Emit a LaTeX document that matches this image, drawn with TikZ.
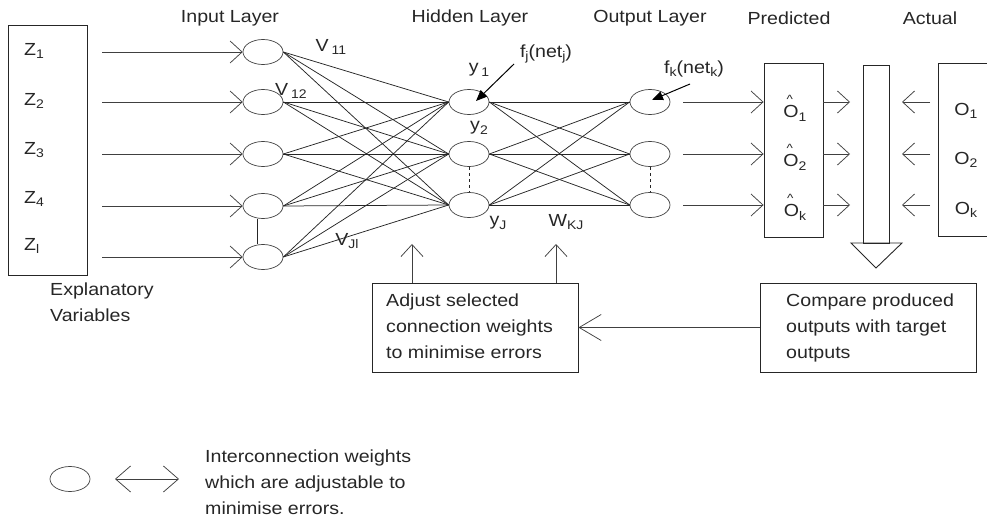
\documentclass[tikz,border=0pt]{standalone}
\usepackage{fontspec}
\setmainfont{Liberation Sans}[FakeStretch=1.12]
\usetikzlibrary{arrows.meta,shapes.geometric}
\newcommand{\sbs}[1]{\raisebox{-0.35ex}{\fontsize{12.5}{12}\selectfont #1}}
\newcommand{\ohat}[1]{\makebox[0pt][l]{\raisebox{0.85em}{\hspace{0.18em}\fontsize{12}{12}\selectfont\textasciicircum}}O\sbs{#1}}
\begin{document}
\begin{tikzpicture}[x=1pt,y=-1pt,
  every node/.style={font=\fontsize{17.5}{26}\selectfont, text=black!85},
  neuron/.style={draw=black!75, ellipse, minimum width=40pt, minimum height=25pt, inner sep=0pt, line width=0.7pt},
  conn/.style={draw=black!85, line width=0.75pt},
  arr/.style={draw=black!75, line width=0.75pt, -{Straight Barb[length=12pt,width=22pt]}},
  bigarr/.style={draw=black!75, line width=0.75pt, -{Straight Barb[length=22pt,width=26pt]}},
  fill arrow/.style={draw=black, line width=1pt, -{Triangle[length=11pt,width=9pt]}},
  box/.style={draw=black!85, line width=0.9pt},
  lbl/.style={inner sep=0pt}]
\useasboundingbox (0,0) rectangle (987,521);

% titles
\node[lbl] (tin) at (230,18) {Input Layer};
\node[lbl] (thid) at (470,18) {Hidden Layer};
\node[lbl] (tout) at (650,18) {Output Layer};
\node[lbl] (tpred) at (789,18) {Predicted};
\node[lbl] (tact) at (930,18) {Actual};

% explanatory variables box
\draw[box] (8,25) rectangle (87,275);
\node[lbl, anchor=west] (z1) at (24,51) {Z\sbs{1}};
\node[lbl, anchor=west] (z2) at (24,101) {Z\sbs{2}};
\node[lbl, anchor=west] (z3) at (24,150) {Z\sbs{3}};
\node[lbl, anchor=west] (z4) at (24,199) {Z\sbs{4}};
\node[lbl, anchor=west] (z5) at (24,246) {Z\sbs{l}};
\node[lbl, anchor=north west, align=left] (expl) at (50,283) {Explanatory\\Variables};

% input neurons
\foreach \i/\y in {1/52,2/102,3/154,4/206,5/257}{
  \node[neuron] (in\i) at (263,\y) {};
  \coordinate (s\i) at (102,\y);
  \draw[arr] (s\i) -- (in\i.west);
}
\draw[conn] ([xshift=-6pt]in4.south) -- ([xshift=-6pt]in5.north);

% hidden and output neurons
\foreach \j/\y in {1/102,2/154,3/205}{
  \node[neuron] (h\j) at (469,\y) {};
  \node[neuron] (o\j) at (650,\y) {};
}
\draw[conn, dashed] (h2.south) -- (h3.north);
\draw[conn, dashed] (o2.south) -- (o3.north);

% connections
\foreach \i in {1,...,5}{
  \foreach \j in {1,2,3}{
    \draw[conn] (in\i.east) -- (h\j.west);
  }
}
\foreach \j in {1,2,3}{
  \foreach \k in {1,2,3}{
    \draw[conn] (h\j.east) -- (o\k.west);
  }
}

% weight labels
\node[lbl] (v11) at (331,47) {V\,\sbs{11}};
\node[lbl] (v12) at (291,91) {V\,\sbs{12}};
\node[lbl] (vjl) at (347,241) {V\sbs{Jl}};
\node[lbl] (y1) at (479,70) {y\,\sbs{1}};
\node[lbl] (y2) at (479,128) {y\sbs{2}};
\node[lbl] (yj) at (498,223) {y\sbs{J}};
\node[lbl] (wkj) at (566,222) {W\sbs{KJ}};

% activation function labels
\node[lbl] (fj) at (546,54) {f\sbs{j}(net\sbs{j})};
\node[lbl] (fk) at (694,69) {f\sbs{k}(net\sbs{k})};
\coordinate (fjs) at (514,64);
\coordinate (fje) at (476,101);
\coordinate (fks) at (690,84);
\coordinate (fke) at (652,100);
\draw[fill arrow] (fjs) -- (fje);
\draw[fill arrow] (fks) -- (fke);

% predicted box
\node[box, minimum width=59pt, minimum height=174pt, inner sep=0pt] (pred) at (793.5,150) {};
\node[lbl] (p1) at (795,108) {\ohat{1}};
\node[lbl] (p2) at (795,157) {\ohat{2}};
\node[lbl] (p3) at (795,207) {\ohat{k}};
\foreach \k/\y in {1/102,2/154,3/205}{
  \coordinate (pe\k) at (pred.west |- 0,\y);
  \draw[arr] ([xshift=13pt]o\k.east) -- (pe\k);
}

% comparison bar
\node[box, minimum width=26pt, minimum height=178pt, inner sep=0pt] (bar) at (876,154) {};
\draw[box] (851,243) -- (902,243) -- (876,268) -- cycle;
\foreach \k/\y in {1/102,2/154,3/205}{
  \coordinate (bl\k) at (850,\y);
  \coordinate (br\k) at (902,\y);
  \coordinate (pr\k) at (823,\y);
  \coordinate (ar\k) at (930,\y);
  \draw[arr] (pr\k) -- (bl\k);
  \draw[arr] (ar\k) -- (br\k);
}

% actual box
\draw[box] (995,63) -- (938,63) -- (938,236) -- (995,236);
\node[lbl] (a1) at (966,111) {O\sbs{1}};
\node[lbl] (a2) at (966,160) {O\sbs{2}};
\node[lbl] (a3) at (966,210) {O\sbs{k}};

% bottom boxes
\node[box, minimum width=206pt, minimum height=89pt, inner sep=0pt] (adj) at (475,327.5) {};
\node[lbl, anchor=north west, align=left] (adjt) at (386,294) {Adjust selected\\connection weights\\to minimise errors};
\node[box, minimum width=216pt, minimum height=89pt, inner sep=0pt] (cmp) at (868,327.5) {};
\node[lbl, anchor=north west, align=left] (cmpt) at (786,294) {Compare produced\\outputs with target\\outputs};
\draw[bigarr] (cmp.west) -- (adj.east);
\coordinate (u1) at (412,244);
\coordinate (u2) at (556,244);
\draw[arr] (adj.north -| u1) -- (u1);
\draw[arr] (adj.north -| u2) -- (u2);

% legend
\node[neuron] (leg) at (70,479) {};
\coordinate (la) at (115,479);
\coordinate (lb) at (179,479);
\draw[draw=black!75, line width=0.75pt, {Straight Barb[length=15pt,width=26pt]}-{Straight Barb[length=15pt,width=26pt]}] (la) -- (lb);
\node[lbl, anchor=north west, align=left] (legt) at (205,450) {Interconnection weights\\which are adjustable to\\minimise errors.};
\end{tikzpicture}
\end{document}
